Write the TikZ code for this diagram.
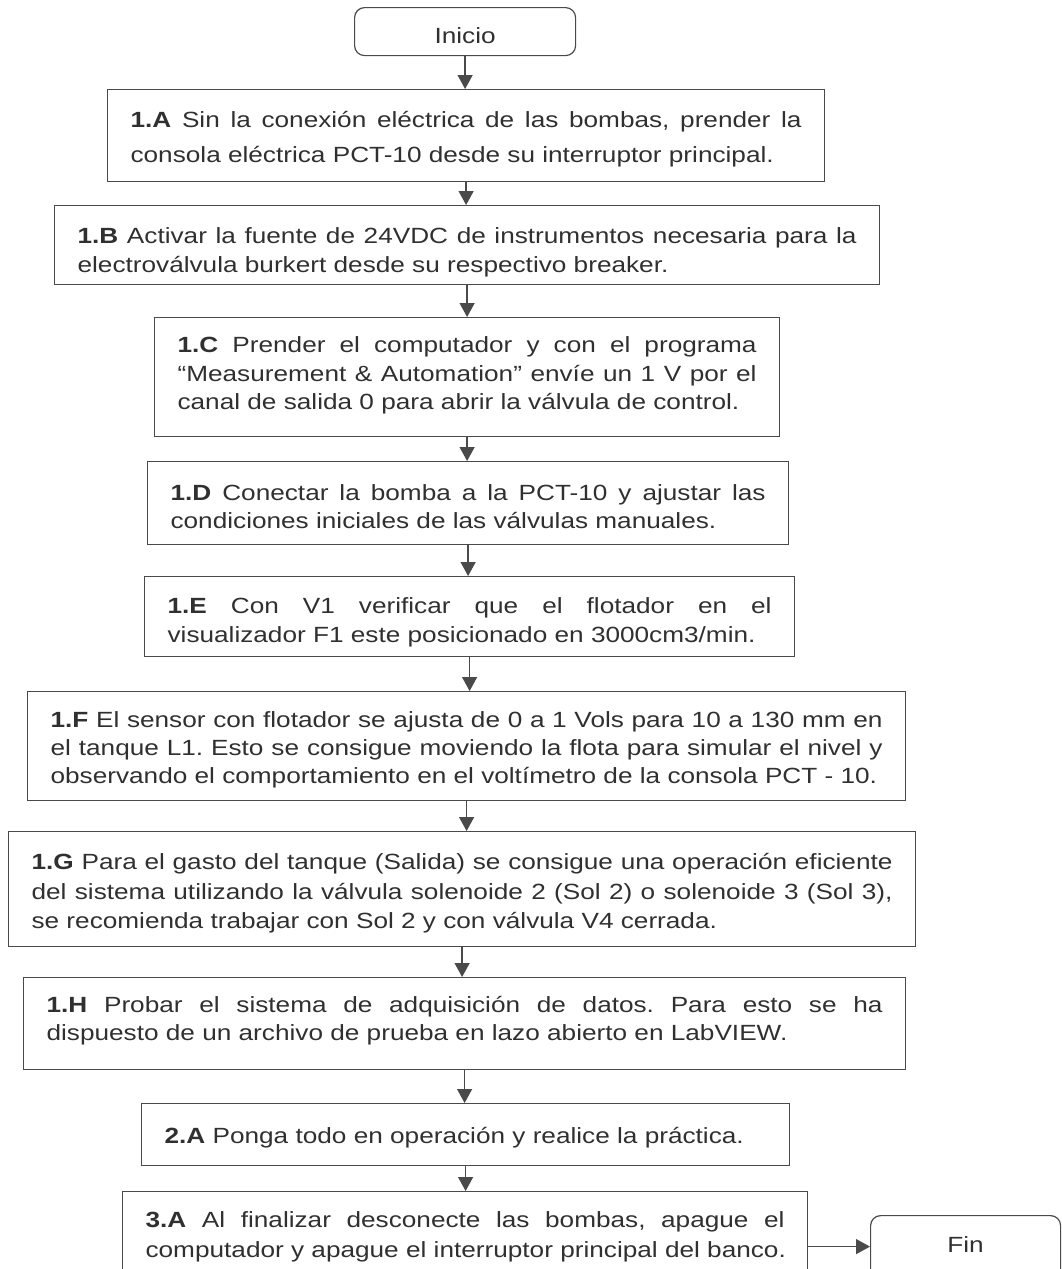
\documentclass[tikz,border=0pt]{standalone}
\usepackage{fontspec}
\setmainfont{Liberation Sans}[FakeStretch=1.19]
\usetikzlibrary{arrows.meta}
\definecolor{txt}{HTML}{303030}
\definecolor{ln}{HTML}{4A4A4A}
\newcommand{\JL}[1]{\makebox[\hsize][s]{\spaceskip=0pt\xspaceskip=0pt #1}}
\newcommand{\LL}[1]{\makebox[\hsize][l]{\spaceskip=0pt\xspaceskip=0pt #1}}
\frenchspacing
\tikzset{
  stepbox/.style={draw=ln, line width=1.2pt, text=txt, anchor=north west,
    inner xsep=23pt, inner ysep=0pt, align=justify},
  term/.style={draw=ln, line width=1.2pt, rounded corners=10pt, text=txt,
    anchor=north west, inner sep=0pt, font=\fontsize{22}{29}\selectfont},
  arr/.style={draw=ln, line width=1.3pt, -{Triangle[width=15pt,length=14pt]}},
  fs/.style={font=\fontsize{22}{#1}\selectfont\frenchspacing}
}
\begin{document}
\begin{tikzpicture}[x=1pt,y=-1pt]
\useasboundingbox (0,0) rectangle (1061,1269);
\node[term, minimum width=221pt, text height=36pt, text depth=12pt] (ini) at (354,7) {Inicio};
\node[stepbox, fs=35, text width=671pt, text height=37.7pt, text depth=54.3pt] (A) at (107,89)
  {\JL{\textbf{1.A} Sin la conexión eléctrica de las bombas, prender la}\\
   \LL{consola eléctrica PCT-10 desde su interruptor principal.}};
\node[stepbox, fs=29, text width=779pt, text height=38pt, text depth=41pt] (B) at (54,205)
  {\JL{\textbf{1.B} Activar la fuente de 24VDC de instrumentos necesaria para la}\\
   \LL{electroválvula burkert desde su respectivo breaker.}};
\node[stepbox, fs=28.5, text width=579pt, text height=35pt, text depth=84pt] (C) at (154,317)
  {\JL{\textbf{1.C} Prender el computador y con el programa}\\
   \JL{“Measurement \& Automation” envíe un 1 V por el}\\
   \LL{canal de salida 0 para abrir la válvula de control.}};
\node[stepbox, fs=28, text width=595pt, text height=39pt, text depth=44pt] (D) at (147,461)
  {\JL{\textbf{1.D} Conectar la bomba a la PCT-10 y ajustar las}\\
   \LL{condiciones iniciales de las válvulas manuales.}};
\node[stepbox, fs=29, text width=604pt, text height=37pt, text depth=43pt] (E) at (144,576)
  {\JL{\textbf{1.E} Con V1 verificar que el flotador en el}\\
   \LL{visualizador F1 este posicionado en 3000cm3/min.}};
\node[stepbox, fs=28, text width=832pt, text height=36pt, text depth=73pt] (F) at (27,691)
  {\JL{\textbf{1.F} El sensor con flotador se ajusta de 0 a 1 Vols para 10 a 130 mm en}\\
   \JL{el tanque L1. Esto se consigue moviendo la flota para simular el nivel y}\\
   \LL{observando el comportamiento en el voltímetro de la consola PCT - 10.}};
\node[stepbox, fs=29.5, text width=861pt, text height=38pt, text depth=77pt] (G) at (8,831)
  {\JL{\textbf{1.G} Para el gasto del tanque (Salida) se consigue una operación eficiente}\\
   \JL{del sistema utilizando la válvula solenoide 2 (Sol 2) o solenoide 3 (Sol 3),}\\
   \LL{se recomienda trabajar con Sol 2 y con válvula V4 cerrada.}};
\node[stepbox, fs=28, text width=836pt, text height=35pt, text depth=57pt] (H) at (23,977)
  {\JL{\textbf{1.H} Probar el sistema de adquisición de datos. Para esto se ha}\\
   \LL{dispuesto de un archivo de prueba en lazo abierto en LabVIEW.}};
\node[stepbox, fs=29, text width=602pt, text height=40pt, text depth=22pt] (P) at (141,1103)
  {\LL{\textbf{2.A} Ponga todo en operación y realice la práctica.}};
\node[stepbox, fs=30, text width=639pt, text height=36pt, text depth=74pt] (Q) at (122,1191)
  {\JL{\textbf{3.A} Al finalizar desconecte las bombas, apague el}\\
   \LL{computador y apague el interruptor principal del banco.}};
\node[term, minimum width=190pt, text height=37pt, text depth=38pt] (fin) at (870,1215) {Fin};
\draw[arr] (ini.south) -- (ini.south |- A.north);
\draw[arr] (A.south) -- (A.south |- B.north);
\draw[arr] (B.south) -- (B.south |- C.north);
\draw[arr] (C.south) -- (C.south |- D.north);
\draw[arr] (D.south) -- (D.south |- E.north);
\draw[arr] (E.south) -- (E.south |- F.north);
\draw[arr] (F.south) -- (F.south |- G.north);
\draw[arr] (G.south) -- (G.south |- H.north);
\draw[arr] (H.south) -- (H.south |- P.north);
\draw[arr] (P.south) -- (P.south |- Q.north);
\draw[arr] (Q.east) -- (Q.east -| fin.west);
\end{tikzpicture}
\end{document}
